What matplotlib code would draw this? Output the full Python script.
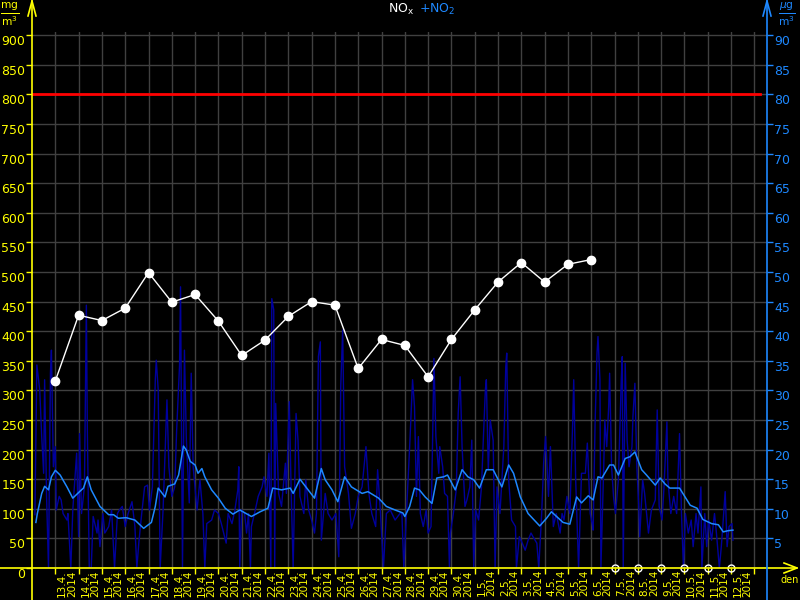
import datetime
import matplotlib
matplotlib.use("Agg")
import matplotlib.pyplot as plt
from matplotlib.lines import Line2D

# --- data (hours since 12.4.2014 00:00) ---
start_date = datetime.date(2014, 4, 12)
n_days = 31

# daily NOx means, plotted at end of day (day index 1..24)
daily_idx = list(range(1, 25))
daily_nox = [316, 427, 418, 439, 499, 449, 462, 417, 359, 385, 425, 450,
             444, 337, 386, 376, 323, 386, 436, 483, 516, 483, 513, 521]
# days without daily value
missing_idx = [25, 26, 27, 28, 29, 30]

limit_nox = 800

# hourly NOx (left axis), (hour, value)
nox_hourly = [
    (3, 90), (5, 343), (8, 300), (10, 222), (12, 160), (13, 318), (15, 121), (17, 0), (19, 329),
    (20, 368), (22, 171), (24, 205), (25, 98), (28, 121), (30, 115), (32, 92), (36, 81), (37, 92),
    (40, 0), (42, 98), (46, 194), (48, 53), (49, 227), (51, 92), (54, 137), (56, 444), (57, 233),
    (59, 0), (61, 0), (63, 87), (67, 59), (68, 81), (70, 36), (73, 92), (75, 59), (79, 70), (82, 98),
    (85, 0), (88, 92), (90, 98), (93, 104), (96, 70), (99, 92), (103, 112), (106, 70), (108, 0),
    (110, 42), (113, 92), (116, 137), (119, 140), (121, 98), (124, 137), (127, 318), (128, 351),
    (130, 301), (132, 0), (135, 98), (139, 284), (141, 171), (144, 121), (147, 137), (149, 233),
    (152, 343), (153, 475), (155, 0), (157, 368), (159, 216), (162, 110), (164, 329), (166, 171),
    (170, 98), (173, 149), (176, 92), (178, 0), (180, 75), (185, 81), (188, 98), (192, 92),
    (195, 75), (200, 42), (202, 92), (206, 75), (209, 98), (212, 132), (213, 171), (214, 0),
    (216, 98), (219, 92), (221, 59), (223, 92), (225, 0), (226, 70), (230, 98), (233, 121),
    (237, 137), (239, 154), (242, 121), (244, 194), (246, 0), (247, 455), (249, 436), (250, 0),
    (251, 278), (254, 126), (257, 104), (261, 177), (262, 126), (265, 281), (267, 126), (269, 0),
    (272, 261), (274, 216), (276, 121), (280, 92), (282, 149), (285, 98), (288, 81), (291, 59),
    (293, 92), (295, 357), (297, 382), (298, 47), (302, 126), (305, 92), (309, 81), (313, 92),
    (316, 19), (318, 306), (320, 402), (322, 171), (326, 126), (329, 67), (333, 92), (336, 121),
    (340, 137), (344, 205), (347, 126), (350, 92), (354, 70), (356, 166), (359, 92), (362, 0),
    (365, 92), (369, 98), (374, 81), (379, 92),
    (381, 92), (383, 0), (386, 104), (389, 205), (392, 318), (394, 272), (396, 121), (398, 222),
    (400, 92), (403, 70), (406, 98), (408, 59), (411, 70), (413, 250), (414, 354), (416, 222),
    (419, 160), (420, 205), (423, 171), (425, 126), (428, 121), (430, 0), (431, 59), (434, 92),
    (437, 132), (439, 261), (441, 323), (443, 205), (446, 104), (448, 115), (451, 137), (453, 216),
    (455, 0), (457, 98), (460, 81), (463, 137), (465, 222), (467, 301), (468, 318), (470, 166),
    (472, 250), (475, 216), (477, 0), (479, 137), (482, 92), (486, 205), (488, 340), (489, 363),
    (491, 149), (494, 81), (498, 70), (499, 0), (502, 53), (505, 42), (508, 30), (511, 47),
    (514, 59), (516, 53), (520, 42), (522, 0), (525, 92), (527, 177), (529, 222), (532, 121),
    (534, 205), (537, 70), (540, 92), (544, 59), (546, 92), (548, 81), (551, 121), (554, 92),
    (557, 250), (558, 318), (560, 149), (563, 0), (566, 160),
    (570, 160), (572, 211), (575, 92), (577, 75), (578, 64), (580, 244), (582, 363), (583, 391),
    (585, 318), (586, 0), (589, 177), (590, 250), (592, 205), (594, 272), (595, 329), (597, 171),
    (599, 121), (601, 92), (604, 149), (607, 318), (608, 357), (609, 0), (611, 346), (613, 216),
    (615, 171), (618, 205), (619, 256), (621, 312), (623, 171), (625, 104), (626, 53), (629, 149),
    (631, 126), (633, 92), (635, 59), (638, 98), (642, 115), (644, 267), (646, 104), (649, 81),
    (651, 137), (654, 247), (655, 149), (658, 92), (661, 121), (664, 92), (667, 227), (669, 92),
    (671, 0), (673, 92), (676, 59), (679, 81), (681, 36), (684, 92), (686, 59), (689, 137),
    (690, 0), (693, 92), (695, 36), (697, 81), (700, 47), (703, 92), (705, 59), (708, 0),
    (710, 36), (712, 81), (714, 129), (716, 36), (718, 70), (721, 75), (722, 47),
]

# hourly NO2 (right axis, ug/m3), (hour, value)
no2_hourly = [
    (4, 7.7), (5.5, 9.2), (10, 12.6), (13, 13.8), (17, 13.2), (20, 15.4), (24, 16.5), (29, 15.7),
    (36, 13.7), (42, 11.8), (49, 12.9), (53, 13.5), (57, 15.4), (61, 13.2), (70, 10.4), (79, 9.0),
    (84, 9.0), (89, 8.4), (97, 8.5), (106, 8.1), (115, 6.7), (123, 7.7), (127, 10.4), (130, 13.5),
    (137, 12.0), (140, 13.8), (147, 14.2), (151, 15.7), (156, 20.6), (159, 19.9), (163, 18.0),
    (168, 17.4), (171, 16.0), (175, 16.8), (178, 15.4), (185, 13.2), (192, 11.8), (199, 10.1),
    (207, 9.1), (214, 9.8), (226, 8.7), (235, 9.5), (243, 10.1), (248, 13.5), (257, 13.2),
    (266, 13.5), (269, 12.6), (276, 15.0), (283, 13.5), (291, 11.8), (298, 16.8), (302, 14.9),
    (309, 13.2), (315, 11.2), (322, 15.4), (329, 13.7), (340, 12.6), (346, 12.9), (357, 11.8),
    (365, 10.4), (374, 9.8), (382, 9.3), (384, 8.7), (389, 10.4), (394, 13.5), (399, 13.2),
    (405, 12.0), (412, 10.9), (417, 15.2), (424, 15.4), (428, 15.7), (436, 13.2), (443, 16.6),
    (449, 15.4), (455, 14.9), (461, 13.5), (468, 16.6), (475, 16.6), (484, 13.7), (491, 17.4),
    (496, 16.0), (503, 12.0), (511, 9.2), (523, 7.1), (530, 8.4), (535, 9.5), (547, 7.7),
    (554, 7.4), (561, 12.0), (566, 11.0), (573, 12.2), (578, 11.5), (583, 15.4), (587, 15.2),
    (595, 17.4), (599, 17.4), (604, 15.7), (611, 18.5), (616, 18.8), (621, 19.6), (628, 16.6),
    (633, 15.7), (642, 14.0), (647, 15.2), (652, 14.2), (657, 13.5), (667, 13.5), (678, 10.6),
    (685, 10.1), (691, 8.2), (700, 7.5), (707, 7.3), (712, 6.1), (717, 6.3), (722, 6.4),
]

yellow = "#ffff00"
blue = "#1e88ff"
navy = "#00009c"
grid = "#404040"

fig = plt.figure(figsize=(8, 6), dpi=100, facecolor="black")
ax = fig.add_axes([32 / 800, 32 / 600, 735 / 800, 536 / 600])
ax.set_facecolor("black")
ax.set_xlim(0, 735 * 24 / 23.3)
ax.set_ylim(0, 905.4)

nox_h, nox_v = zip(*nox_hourly)
ax.plot(nox_h, nox_v, color=navy, lw=1, zorder=2)
ax.axhline(limit_nox, xmin=0, xmax=0.99, color="#ff0000", lw=2, zorder=4)
ax.plot([24 * d for d in daily_idx], daily_nox, color="white", lw=1,
        marker="o", markersize=6, zorder=5)
ax.plot([24 * d for d in missing_idx], [0] * len(missing_idx), ls="none",
        marker="o", markersize=5, mfc="none", mec="white", mew=1, clip_on=False, zorder=6)

# ticks / grid
ax.set_yticks(range(0, 901, 50))
ax.set_xticks([24 * d for d in range(1, n_days + 1)], minor=True)
ax.set_xticks([24 * d + 12 for d in range(1, n_days)])
labels = []
for d in range(1, n_days):
    dt = start_date + datetime.timedelta(days=d)
    labels.append(f"{dt.day}.{dt.month}.\n{dt.year}")
ax.set_xticklabels(labels, rotation=90, va="top", ha="center",
                   multialignment="left", linespacing=0.95)
ax.tick_params(axis="x", which="major", length=0, pad=1.5, colors=yellow, labelsize=7.5)
ax.tick_params(axis="x", which="minor", length=4, width=1, color=yellow, direction="out")
ax.tick_params(axis="y", length=4, width=1, color=yellow, labelcolor=yellow,
               labelsize=9, pad=1)
for lbl in ax.get_yticklabels():
    lbl.set_va("top")
ax.grid(True, which="minor", axis="x", color=grid, lw=1)
ax.grid(True, which="major", axis="y", color=grid, lw=1)
ax.set_axisbelow(True)
for s in ax.spines.values():
    s.set_visible(False)

ax2 = ax.twinx()
ax2.set_ylim(0, 90.54)
no2_h, no2_v = zip(*no2_hourly)
ax2.plot(no2_h, no2_v, color=blue, lw=1.1, zorder=3)
ax2.set_yticks(range(5, 91, 5))
ax2.tick_params(axis="y", length=4, width=1, color=blue, labelcolor=blue,
                labelsize=9, pad=1)
for lbl in ax2.get_yticklabels():
    lbl.set_va("top")
for s in ax2.spines.values():
    s.set_visible(False)

# axis lines with arrows (figure pixels)
def fl(xs, ys, c, lw=1.2):
    fig.add_artist(Line2D([x / 800 for x in xs], [1 - y / 600 for y in ys],
                          color=c, lw=lw, transform=fig.transFigure))

fl([32, 32], [0, 600], yellow)
fl([28, 32, 36], [16, 1, 16], yellow)
fl([0, 797], [568, 568], yellow)
fl([784, 797, 784], [563, 568, 573], yellow)
fl([767, 767], [0, 600], blue)
fl([763, 767, 771], [16, 1, 16], blue)

fig.text(10 / 800, 1 - 14 / 600, r"$\frac{\mathrm{mg}}{\mathrm{m}^3}$", color=yellow,
         fontsize=11, ha="center", va="center")
fig.text(787 / 800, 1 - 14 / 600, r"$\frac{\mu\mathrm{g}}{\mathrm{m}^3}$", color=blue,
         fontsize=11, ha="center", va="center")
fig.text(790 / 800, 1 - 580 / 600, "den", color=yellow, fontsize=7, ha="center", va="center")
fig.text(388 / 800, 1 - 9 / 600, r"NO$_\mathrm{x}$", color="white", fontsize=9,
         ha="left", va="center")
fig.text(419 / 800, 1 - 9 / 600, r"+NO$_2$", color=blue, fontsize=9, ha="left", va="center")

fig.savefig("out.png", dpi=100, facecolor="black")
